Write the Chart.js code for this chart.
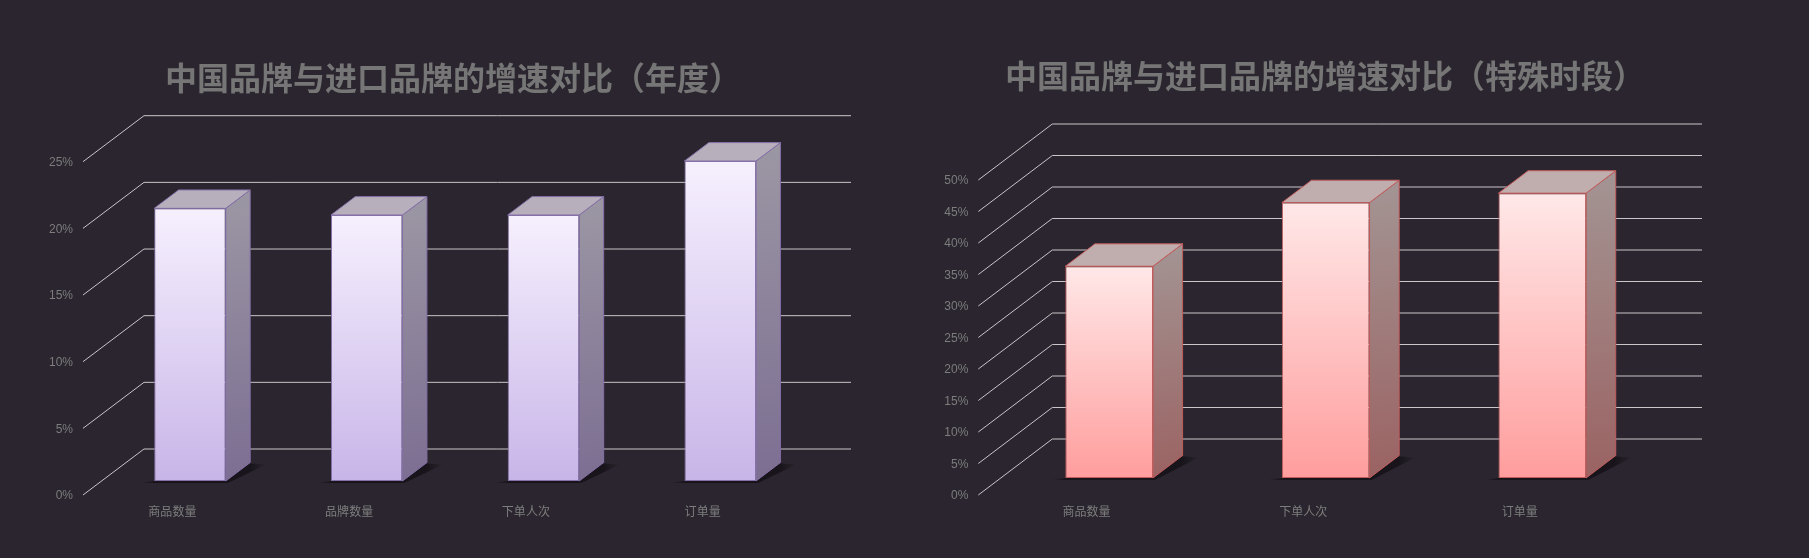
<!DOCTYPE html>
<html>
<head>
<meta charset="utf-8">
<title>增速对比</title>
<script src="https://cdn.jsdelivr.net/npm/chart.js@4/dist/chart.umd.js"></script>
<style>
  html, body { margin: 0; padding: 0; background: #2a252e; }
  body { width: 1809px; height: 558px; position: relative; overflow: hidden; }
  canvas { position: absolute; top: 0; }
  #yearChart { left: 0; }
  #specialChart { left: 905px; }
</style>
</head>
<body>
<canvas id="yearChart" width="906" height="558"></canvas>
<canvas id="specialChart" width="840" height="558"></canvas>
<script>
const yearTitle = "中国品牌与进口品牌的增速对比（年度）";
const yearCategories = ["商品数量", "品牌数量", "下单人次", "订单量"];
const yearValues = [20.45, 19.95, 19.95, 24];

const specialTitle = "中国品牌与进口品牌的增速对比（特殊时段）";
const specialCategories = ["商品数量", "下单人次", "订单量"];
const specialValues = [33.6, 43.7, 45.2];

const GRID_COLOR = "#c9c6c9";
const TEXT_COLOR = "#7d7d7d";

// bars stand in the middle of the floor: front at 30% depth, back at 70%
const BAR_FRONT = 0.305;
const BAR_DEPTH = 0.4;

function pseudo3d(chart) {
  return chart.options.plugins.box3d;
}

const box3dPlugin = {
  id: "box3d",
  beforeDatasetsDraw(chart) {
    const opt = pseudo3d(chart);
    const ctx = chart.ctx;
    const yScale = chart.scales.y;
    const area = chart.chartArea;

    // gridlines: diagonal from the tick to the back wall, then along the wall
    ctx.save();
    ctx.strokeStyle = GRID_COLOR;
    ctx.lineWidth = 1;
    yScale.ticks.forEach((tick) => {
      const y = yScale.getPixelForValue(tick.value);
      ctx.beginPath();
      ctx.moveTo(area.left, y);
      ctx.lineTo(area.left + opt.dx, y - opt.dy);
      ctx.lineTo(area.right + opt.dx, y - opt.dy);
      ctx.stroke();
    });
    ctx.restore();

    const barDx = opt.dx * BAR_DEPTH;
    const barDy = opt.dy * BAR_DEPTH;
    const shiftX = opt.dx * BAR_FRONT;
    const shiftY = opt.dy * BAR_FRONT;

    chart.getDatasetMeta(0).data.forEach((bar) => {
      const x0 = bar.x - bar.width / 2 + shiftX;
      const x1 = bar.x + bar.width / 2 + shiftX;
      const top = bar.y - shiftY;
      const base = bar.base - shiftY;

      // shadow on the floor
      const sLeft = x0 - 14;
      const sRight = x1 + barDx + 16;
      const shadow = ctx.createLinearGradient(sLeft, 0, sRight, 0);
      const fade = 14 / (sRight - sLeft);
      shadow.addColorStop(0, "rgba(20,16,22,0)");
      shadow.addColorStop(fade, "rgba(20,16,22,0.8)");
      shadow.addColorStop(1 - fade * 1.2, "rgba(20,16,22,0.8)");
      shadow.addColorStop(1, "rgba(20,16,22,0)");
      ctx.save();
      ctx.fillStyle = shadow;
      ctx.beginPath();
      ctx.moveTo(sLeft, base + 2);
      ctx.lineTo(x1 + 2, base + 2);
      ctx.lineTo(sRight, base - barDy + 2);
      ctx.lineTo(x1 + barDx, base - barDy + 1);
      ctx.lineTo(x0, base);
      ctx.closePath();
      ctx.fill();
      ctx.restore();

      // side face
      const side = ctx.createLinearGradient(x1, top - barDy, x1 + barDx, base);
      side.addColorStop(0, opt.sideTop);
      side.addColorStop(1, opt.sideBottom);
      ctx.save();
      ctx.lineWidth = 1;
      ctx.strokeStyle = opt.edge;
      ctx.fillStyle = side;
      ctx.beginPath();
      ctx.moveTo(x1, top);
      ctx.lineTo(x1 + barDx, top - barDy);
      ctx.lineTo(x1 + barDx, base - barDy);
      ctx.lineTo(x1, base);
      ctx.closePath();
      ctx.fill();
      ctx.stroke();

      // top face
      ctx.fillStyle = opt.topFace;
      ctx.beginPath();
      ctx.moveTo(x0, top);
      ctx.lineTo(x0 + barDx, top - barDy);
      ctx.lineTo(x1 + barDx, top - barDy);
      ctx.lineTo(x1, top);
      ctx.closePath();
      ctx.fill();
      ctx.stroke();
      ctx.restore();
    });
  },
  beforeDatasetDraw(chart) {
    const opt = pseudo3d(chart);
    chart.ctx.save();
    chart.ctx.translate(opt.dx * BAR_FRONT, -opt.dy * BAR_FRONT);
  },
  afterDatasetDraw(chart) {
    chart.ctx.restore();
  },
};

function renderBars(canvasId, title, labels, values, cfg) {
  const canvas = document.getElementById(canvasId);
  return new Chart(canvas.getContext("2d"), {
    type: "bar",
    data: {
      labels: labels,
      datasets: [
        {
          data: values,
          barPercentage: 0.405,
          categoryPercentage: 1,
          borderWidth: 1,
          borderSkipped: false,
          borderColor: cfg.edge,
          backgroundColor: (context) => {
            const chart = context.chart;
            if (!chart.chartArea || !context.parsed) return cfg.frontBottom;
            const yScale = chart.scales.y;
            const gradient = chart.ctx.createLinearGradient(
              0,
              yScale.getPixelForValue(context.parsed.y),
              0,
              yScale.getPixelForValue(0)
            );
            gradient.addColorStop(0, cfg.frontTop);
            gradient.addColorStop(1, cfg.frontBottom);
            return gradient;
          },
        },
      ],
    },
    plugins: [box3dPlugin],
    options: {
      responsive: false,
      animation: false,
      devicePixelRatio: 1,
      plugins: {
        legend: { display: false },
        tooltip: { enabled: false },
        title: {
          display: true,
          text: title,
          color: "#767676",
          font: {
            family: "'Noto Sans CJK SC'",
            size: 32,
            weight: "bold",
            lineHeight: 1.2,
          },
          padding: { top: cfg.titleTop, bottom: cfg.titleBottom },
        },
        box3d: {
          dx: cfg.dx,
          dy: cfg.dy,
          edge: cfg.edge,
          sideTop: cfg.sideTop,
          sideBottom: cfg.sideBottom,
          topFace: cfg.topFace,
        },
      },
      scales: {
        x: {
          afterFit: (scale) => {
            scale.height = 63;
          },
          grid: { display: false, drawTicks: false },
          border: { display: false },
          ticks: {
            color: TEXT_COLOR,
            padding: 9,
            labelOffset: cfg.labelShift,
            maxRotation: 0,
            font: { family: "'Noto Sans CJK SC'", size: 12 },
          },
        },
        y: {
          min: 0,
          max: cfg.max,
          afterFit: (scale) => {
            scale.width = cfg.axisWidth;
          },
          grid: { display: false, drawTicks: false },
          border: { display: false },
          ticks: {
            stepSize: 5,
            color: TEXT_COLOR,
            padding: 10,
            labelOffset: 1,
            font: { family: "'Liberation Sans'", size: 12 },
            callback: (value) => value + "%",
          },
        },
        // empty axis that keeps the room on the right for the back wall,
        // so the title still centres on the whole canvas
        wallGap: {
          position: "right",
          afterFit: (scale) => {
            scale.width = cfg.rightGap;
          },
          grid: { display: false, drawTicks: false },
          border: { display: false },
          ticks: { display: false },
        },
      },
    },
  });
}

renderBars("yearChart", yearTitle, yearCategories, yearValues, {
  max: 25,
  dx: 61,
  dy: 46,
  axisWidth: 83,
  rightGap: 906 - 790,
  labelShift: 1,
  titleTop: 59,
  titleBottom: 64.3,
  edge: "#8570a8",
  frontTop: "#f6f0fe",
  frontBottom: "#c8b5e8",
  sideTop: "#9c97a4",
  sideBottom: "#7c6e92",
  topFace: "#b7b0bc",
});

renderBars("specialChart", specialTitle, specialCategories, specialValues, {
  max: 50,
  dx: 74,
  dy: 56,
  axisWidth: 73.3,
  rightGap: 840 - 723,
  labelShift: 0,
  titleTop: 57,
  titleBottom: 84.6,
  edge: "#c25c5c",
  frontTop: "#ffe8e8",
  frontBottom: "#ff9d9d",
  sideTop: "#a39594",
  sideBottom: "#9b6262",
  topFace: "#c0aeae",
});
</script>
</body>
</html>
